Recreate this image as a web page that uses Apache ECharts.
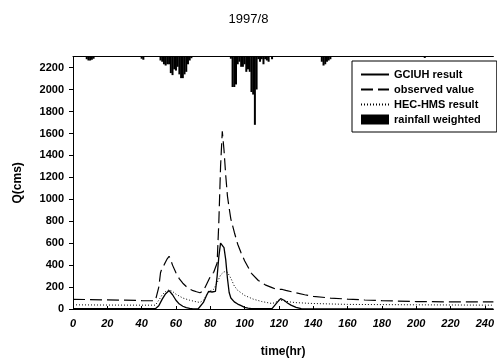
<!DOCTYPE html>
<html>
<head>
<meta charset="utf-8">
<script src="https://cdn.jsdelivr.net/npm/echarts@6/dist/echarts.min.js"></script>
<style>html,body{margin:0;padding:0;background:#fff}#c{width:497px;height:363px}</style>
</head>
<body>
<div id="c"></div>
<script>
// GCIUH result (solid)
const gcTime = [0,48,49,50,52,54,56,57,58,60,62,64,66,68,70,73,74,76,78,79,80,81,82,83,84,85,86,87,88,89,90,91,92,94,96,98,100,102,104,116,117,119,121,123,125,127,130,133,245];
const gcQ = [3,3,5,30,90,140,168,160,130,80,45,25,12,5,2,2,10,60,130,160,165,155,145,160,300,480,600,610,560,450,280,150,100,65,45,30,15,8,3,3,15,60,95,80,55,35,15,3,2];
// observed value (dashed)
const obsTime = [0,10,20,30,40,48,49,50,51,52,53,54,55,56,57,58,60,62,64,66,68,70,72,74,76,78,80,82,83,84,85,86,87,88,89,90,91,92,94,96,98,100,104,108,112,116,118,120,122,124,128,135,140,150,160,170,180,200,220,245];
const obsQ = [88,86,83,80,77,75,76,200,330,380,400,430,460,480,445,400,330,275,235,205,182,167,157,148,165,230,295,335,345,420,800,1300,1620,1450,1220,1030,920,820,700,590,510,440,325,260,220,195,182,178,178,170,155,130,115,100,90,82,76,68,65,65];
// HEC-HMS result (dotted)
const hecTime = [0,20,40,48,49,50,52,54,56,58,60,64,68,72,74,76,78,80,82,84,86,88,90,92,94,96,100,105,110,116,118,120,122,126,130,140,160,200,245];
const hecQ = [38,36,35,35,40,80,130,160,175,160,135,100,80,65,60,80,130,165,180,240,310,340,335,280,210,170,124,90,68,50,60,82,78,65,58,50,42,38,35];
// rainfall weighted (hanging bars)
const rainTime = [8,9,10,11,12,40,41,51,52,53,54,55,56,57,58,59,60,61,62,63,64,65,66,67,68,69,92,93,94,95,96,97,98,99,100,101,102,103,104,105,106,107,108,109,110,111,112,113,114,116,145,146,147,148,149,150,205];
const rainMm = [1,1.5,1.5,1.2,0.8,0.8,1.2,1.5,2,3,3.5,3,3,6.5,7.3,5,5.5,4,7,8.5,8.5,7,6,3,1.5,0.6,0.8,12,12,11,3,2,4,4,3,6,5,6,14,15,27,13,1,2,1,3,1,1.5,2,1,2,3.5,3,2,1.5,1,0.5];

const zip = (a, b) => a.map((t, i) => [t, b[i]]);
const F = '"Liberation Sans", Arial, sans-serif';
const hidden = {opacity: 0, color: 'rgba(0,0,0,0)', borderColor: 'rgba(0,0,0,0)', borderWidth: 0};

const chart = echarts.init(document.getElementById('c'), null, {renderer: 'canvas'});
chart.setOption({
  animation: false,
  backgroundColor: '#fff',
  title: {
    text: '1997/8', left: 'center', top: 8,
    textStyle: {fontFamily: F, fontSize: 13, fontWeight: 'normal', color: '#000'}
  },
  legend: {
    left: 352, top: 61, orient: 'vertical',
    padding: [8, 16, 7, 8], itemGap: 4, itemWidth: 28, itemHeight: 10,
    borderColor: '#000', borderWidth: 1, borderRadius: 0,
    textStyle: {fontFamily: F, fontSize: 11, fontWeight: 'bold', color: '#000'},
    data: [
      {name: 'GCIUH result', itemStyle: hidden},
      {name: 'observed value', itemStyle: hidden},
      {name: 'HEC-HMS result', itemStyle: hidden},
      {name: 'rainfall weighted', icon: 'rect', itemStyle: {color: '#000'}}
    ]
  },
  grid: {left: 73, top: 56.7, right: 0.4, bottom: 46.3, containLabel: false},
  xAxis: [{
    type: 'value', min: 0, max: 245, interval: 20,
    name: 'time(hr)', nameLocation: 'middle', nameGap: 37,
    nameTextStyle: {fontFamily: F, fontSize: 12, fontWeight: 'bold', color: '#000'},
    axisLine: {show: true, lineStyle: {color: '#000', width: 1}},
    axisTick: {show: true, inside: true, length: 3, lineStyle: {color: '#000'}},
    axisLabel: {fontFamily: F, fontSize: 11, fontWeight: 'bold', fontStyle: 'italic', color: '#000', margin: 9, showMaxLabel: false},
    splitLine: {show: false}
  }, {
    type: 'value', position: 'top', min: 0, max: 245,
    axisLine: {show: true, onZero: false, lineStyle: {color: '#000', width: 1}},
    axisTick: {show: false}, axisLabel: {show: false}, splitLine: {show: false}
  }],
  yAxis: [{
    type: 'value', min: 0, max: 2300, interval: 200,
    name: 'Q(cms)', nameLocation: 'middle', nameGap: 49, nameRotate: 90,
    nameTextStyle: {fontFamily: F, fontSize: 12, fontWeight: 'bold', color: '#000'},
    axisLine: {show: true, lineStyle: {color: '#000', width: 1}},
    axisTick: {show: true, length: 4, lineStyle: {color: '#000'}},
    axisLabel: {fontFamily: F, fontSize: 11, fontWeight: 'bold', color: '#000', margin: 9, showMaxLabel: false,
      formatter: v => String(v)},
    splitLine: {show: false}
  }, {
    type: 'value', min: 0, max: 100, inverse: true, show: false
  }],
  series: [
    {
      name: 'GCIUH result', type: 'line', data: zip(gcTime, gcQ),
      symbol: 'none', color: '#000',
      lineStyle: {color: '#000', width: 1.3, type: 'solid'}, z: 4
    },
    {
      name: 'observed value', type: 'line', data: zip(obsTime, obsQ),
      symbol: 'none', color: '#000',
      lineStyle: {color: '#000', width: 1.2, type: [12, 5]}, z: 3
    },
    {
      name: 'HEC-HMS result', type: 'line', data: zip(hecTime, hecQ),
      symbol: 'none', color: '#000',
      lineStyle: {color: '#000', width: 1, type: [1, 2]}, z: 2
    },
    {
      name: 'rainfall weighted', type: 'bar', xAxisIndex: 1, yAxisIndex: 1,
      data: zip(rainTime, rainMm), barWidth: 2, color: '#000',
      itemStyle: {color: '#000'}, z: 5
    }
  ]
});
</script>
</body>
</html>
